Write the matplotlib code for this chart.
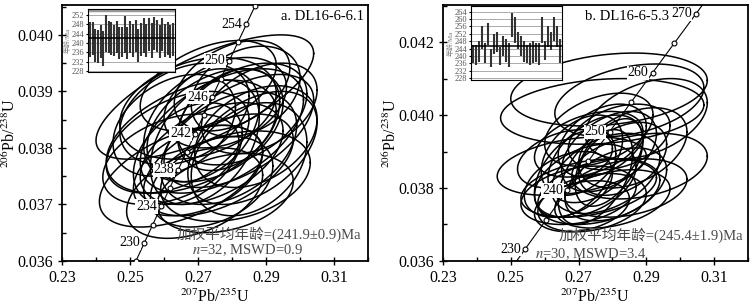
import numpy as np
import matplotlib
matplotlib.use("Agg")
import matplotlib.pyplot as plt
from matplotlib.ticker import MultipleLocator, FixedLocator

plt.rcParams['font.family'] = ['Liberation Serif', 'Noto Sans CJK SC']
plt.rcParams['mathtext.fontset'] = 'stix'

L238 = 1.55125e-10
L235 = 9.8485e-10

# ---- panel a: DL16-6-6.1 ----
# ellipse centres, half-widths, correlation
xa = [0.272, 0.270, 0.265, 0.281, 0.268, 0.275, 0.278, 0.283, 0.262, 0.266, 0.274, 0.279,
      0.287, 0.270, 0.276, 0.285, 0.264, 0.271, 0.280, 0.273, 0.277, 0.267, 0.284, 0.282,
      0.269, 0.288, 0.274, 0.263, 0.278, 0.286, 0.272, 0.279]
ya = [0.0389, 0.0387, 0.0375, 0.0375, 0.0382, 0.0384, 0.0388, 0.0386, 0.0378, 0.0386, 0.0379, 0.0380,
      0.0382, 0.0376, 0.0377, 0.0378, 0.0381, 0.0384, 0.0391, 0.0391, 0.0383, 0.0379, 0.0390, 0.0383,
      0.0372, 0.0387, 0.0374, 0.0384, 0.0372, 0.0380, 0.0381, 0.0385]
sxa = [0.032, 0.023, 0.024, 0.022, 0.025, 0.020, 0.018, 0.019, 0.020, 0.019, 0.021, 0.020,
       0.018, 0.019, 0.022, 0.017, 0.021, 0.017, 0.017, 0.020, 0.024, 0.016, 0.016, 0.022,
       0.020, 0.017, 0.018, 0.018, 0.020, 0.019, 0.016, 0.015]
sya = [0.0011, 0.0009, 0.0009, 0.0008, 0.0010, 0.0010, 0.0008, 0.0009, 0.0008, 0.0009, 0.0009, 0.0010,
       0.0009, 0.0008, 0.0009, 0.0010, 0.0009, 0.0010, 0.0008, 0.0008, 0.0011, 0.0009, 0.0008, 0.0010,
       0.0008, 0.0008, 0.0008, 0.0009, 0.0007, 0.0010, 0.0011, 0.0009]
rhoa = [0.70, 0.30, 0.50, 0.30, 0.45, 0.40, 0.35, 0.40, 0.40, 0.35, 0.45, 0.40,
        0.35, 0.40, 0.50, 0.30, 0.45, 0.35, 0.40, 0.45, 0.50, 0.40, 0.30, 0.55,
        0.40, 0.40, 0.35, 0.35, 0.30, 0.45, 0.40, 0.35]
# inset ages (Ma) and errors
age_a = [241.5, 242, 239, 238.5, 240.5, 237.5, 244, 242.5, 242, 241, 242.5, 240, 240.5, 243.5, 240, 242.5,
         241, 243, 239, 241.5, 243, 241, 243.5, 241, 244, 243, 240.5, 243.5, 241, 242, 240.5, 241.5]
err_a = [7.5, 7, 7, 7, 7, 7.5, 8, 7, 7, 6.5, 7, 7, 6.5, 8, 7, 7,
         7, 7, 7, 7, 7.5, 7, 7, 7.5, 7, 7, 7, 7, 7, 7, 7, 7]
marks_a = list(range(228, 258, 2))
labels_a = [230, 234, 238, 242, 246, 250, 254]

# ---- panel b: DL16-6-5.3 ----
xb = [0.279, 0.277, 0.285, 0.290, 0.288, 0.268, 0.272, 0.275, 0.278, 0.270, 0.276, 0.281,
      0.273, 0.279, 0.267, 0.283, 0.274, 0.280, 0.271, 0.277, 0.269, 0.282, 0.275, 0.284,
      0.273, 0.279, 0.266, 0.286, 0.276, 0.271]
yb = [0.0407, 0.0401, 0.0404, 0.0399, 0.0386, 0.0386, 0.0382, 0.0388, 0.0384, 0.0378, 0.0379, 0.0381,
      0.0392, 0.0390, 0.0381, 0.0388, 0.0376, 0.0377, 0.0389, 0.0393, 0.0384, 0.0394, 0.0383, 0.0380,
      0.0380, 0.0387, 0.0388, 0.0391, 0.0396, 0.0375]
sxb = [0.029, 0.030, 0.022, 0.018, 0.020, 0.022, 0.015, 0.014, 0.016, 0.017, 0.018, 0.015,
       0.016, 0.014, 0.013, 0.013, 0.016, 0.017, 0.012, 0.013, 0.012, 0.015, 0.011, 0.018,
       0.020, 0.010, 0.014, 0.016, 0.016, 0.014]
syb = [0.0010, 0.0009, 0.0010, 0.0011, 0.0009, 0.0008, 0.0010, 0.0012, 0.0011, 0.0008, 0.0009, 0.0010,
       0.0009, 0.0011, 0.0009, 0.0010, 0.0008, 0.0008, 0.0011, 0.0010, 0.0012, 0.0009, 0.0013, 0.0008,
       0.0008, 0.0012, 0.0008, 0.0011, 0.0010, 0.0007]
rhob = [0.25, 0.20, 0.35, 0.40, 0.30, 0.35, 0.40, 0.45, 0.40, 0.30, 0.35, 0.40,
        0.40, 0.45, 0.35, 0.40, 0.30, 0.35, 0.40, 0.40, 0.45, 0.35, 0.50, 0.30,
        0.35, 0.50, 0.35, 0.40, 0.40, 0.30]
age_b = [241, 240.5, 242.5, 250, 241.5, 252, 239, 246.5, 247.5, 240, 245.5, 243, 240.5, 256.5, 254,
         248.5, 245.5, 242.5, 241, 241, 242, 242, 241, 254, 243, 250.5, 248, 254.5, 250.5, 242.5]
err_b = [5, 5.5, 5.5, 6, 5.5, 6, 5, 5.5, 5.5, 5, 5.5, 6, 6.5, 6.5, 7,
         4.5, 5.5, 5.5, 5, 6, 6, 5, 6, 7, 5, 5.5, 5, 6.5, 5.5, 6.5]
marks_b = list(range(225, 275, 5))
labels_b = [230, 240, 250, 260, 270]

xticks = [0.23, 0.25, 0.27, 0.29, 0.31]
xtick_labels = ['0.23', '0.25', '0.27', '0.29', '0.31']


def concordia(t):
    t = np.asarray(t, dtype=float) * 1e6
    return np.exp(L235 * t) - 1, np.exp(L238 * t) - 1


def draw_panel(ax, xs, ys, sxs, sys_, rhos, marks, labels, ylim, yticks, ylabels, yminor,
               tag, tag_x, mean_txt, n_txt, pos1, pos2):
    t = np.linspace(0, 2 * np.pi, 200)
    for cx, cy, sx, sy, r in zip(xs, ys, sxs, sys_, rhos):
        ex = cx + sx * np.cos(t)
        ey = cy + sy * (r * np.cos(t) + np.sqrt(1 - r ** 2) * np.sin(t))
        ax.plot(ex, ey, color='black', lw=1.1, zorder=2)

    cx, cy = concordia(np.linspace(200, 290, 300))
    ax.plot(cx, cy, color='black', lw=0.8, zorder=3)
    mx, my = concordia(marks)
    ax.plot(mx, my, 'o', ms=3.5, mfc='white', mec='black', mew=0.8, zorder=4)
    lx, ly = concordia(labels)
    for a, x, y in zip(labels, lx, ly):
        ax.annotate(str(a), (x, y), xytext=(-3, 0), textcoords='offset points',
                    ha='right', va='center', fontsize=10, zorder=5,
                    bbox=dict(boxstyle='square,pad=0.05', fc='white', ec='none'))

    ax.set_xlim(0.23, 0.32)
    ax.set_ylim(*ylim)
    ax.set_xticks(xticks, xtick_labels)
    ax.xaxis.set_minor_locator(MultipleLocator(0.01))
    ax.set_yticks(yticks, ylabels)
    ax.yaxis.set_minor_locator(MultipleLocator(yminor))
    ax.tick_params(which='major', direction='inout', length=6, width=1, labelsize=11.5)
    ax.tick_params(which='minor', direction='in', length=3, width=1)
    for s in ax.spines.values():
        s.set_linewidth(1.3)
    ax.set_xlabel(r'$^{207}$Pb/$^{235}$U', fontsize=11.5, labelpad=2)
    ax.set_ylabel(r'$^{206}$Pb/$^{238}$U', fontsize=11.5)
    ax.yaxis.set_label_coords(-0.14, 0.5)

    ax.text(tag_x, 0.955, tag, transform=ax.transAxes, ha='center', va='center', fontsize=10.5, zorder=6)
    ax.text(pos1[0], pos1[1], mean_txt, transform=ax.transAxes, ha='center', va='center',
            fontsize=10.5, color='#4a4a4a', zorder=6)
    ax.text(pos2[0], pos2[1], n_txt, transform=ax.transAxes, ha='center', va='center',
            fontsize=10.5, color='#4a4a4a', zorder=6)


def draw_inset(ax, ages, errs, mean, ylim, yticks, top_band=False):
    pos = np.arange(1, len(ages) + 1)
    for y in yticks:
        ax.axhline(y, color='#aaaaaa', lw=0.7, zorder=1)
    if top_band:
        ax.axhline(ylim[1] - 0.6, color='#999999', lw=2.5, zorder=1)
    ax.vlines(pos, np.array(ages) - np.array(errs), np.array(ages) + np.array(errs),
              color='#333333', lw=1.5, zorder=2)
    ax.axhline(mean, color='black', lw=1.1, zorder=3)
    ax.set_xlim(0.2, len(ages) + 0.8)
    ax.set_ylim(*ylim)
    ax.set_xticks([])
    ax.set_yticks(yticks)
    ax.tick_params(axis='y', labelsize=6, labelcolor='#555555', length=1.5, pad=1)
    ax.set_ylabel('年龄/Ma', fontsize=5, color='#777777', labelpad=1)
    for s in ax.spines.values():
        s.set_linewidth(0.8)


fig = plt.figure(figsize=(7.54, 3.07), dpi=100)
ax1 = fig.add_axes([0.0822, 0.150, 0.406, 0.834])
ax2 = fig.add_axes([0.5875, 0.150, 0.4045, 0.834])

draw_panel(ax1, xa, ya, sxa, sya, rhoa, marks_a, labels_a, (0.036, 0.04053),
           [0.036, 0.037, 0.038, 0.039, 0.040], ['0.036', '0.037', '0.038', '0.039', '0.040'], 0.0005,
           'a. DL16-6-6.1', 0.85, '加权平均年龄=(241.9±0.9)Ma', r'$\it{n}$=32, MSWD=0.9',
           (0.676, 0.105), (0.605, 0.043))
draw_panel(ax2, xb, yb, sxb, syb, rhob, marks_b, labels_b, (0.036, 0.04302),
           [0.036, 0.038, 0.040, 0.042], ['0.036', '0.038', '0.040', '0.042'], 0.001,
           'b. DL16-6-5.3', 0.603, '加权平均年龄=(245.4±1.9)Ma', r'$\it{n}$=30, MSWD=3.4',
           (0.682, 0.10), (0.485, 0.025))

in1 = fig.add_axes([0.1167, 0.7655, 0.1154, 0.205])
draw_inset(in1, age_a, err_a, 241.9, (227.5, 254.5), list(range(228, 256, 4)), top_band=True)
in2 = fig.add_axes([0.6247, 0.7394, 0.1207, 0.241])
draw_inset(in2, age_b, err_b, 245.4, (227, 267), list(range(228, 268, 4)))

fig.savefig('out.png', dpi=100)
